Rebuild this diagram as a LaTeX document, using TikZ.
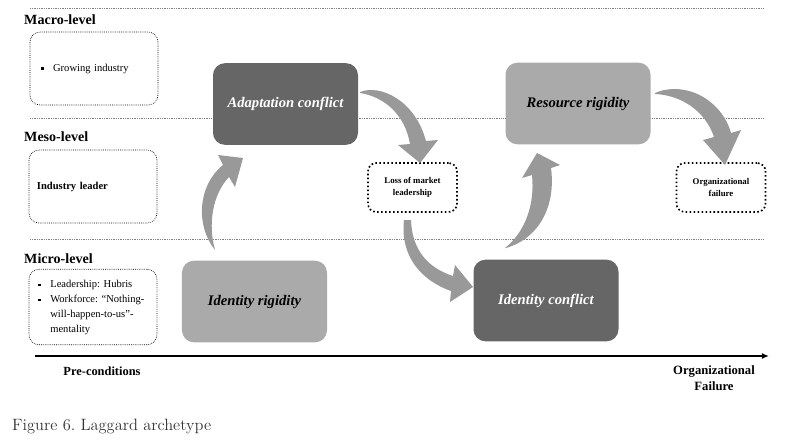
\documentclass[tikz,border=0pt]{standalone}
\usepackage{fontspec}
\setmainfont{Liberation Serif}
\newfontfamily\capfont{Latin Modern Roman}
\usetikzlibrary{arrows.meta}
\frenchspacing

\definecolor{darkbox}{HTML}{666666}
\definecolor{lightbox}{HTML}{AAAAAA}
\definecolor{arrowgray}{HTML}{999999}
\newcommand{\sqbul}{\rule[0.25ex]{2.4pt}{2.4pt}}

\tikzset{
    levelbox/.style={draw, densely dotted, line width=0.6pt, rounded corners=0.3cm, minimum width=3.84cm, minimum height=2.19cm, text width=3.36cm, align=left, inner sep=0.24cm, font=\fontsize{9}{12.7}\selectfont},
    phasebox/.style={rounded corners=0.36cm, minimum width=4.35cm, minimum height=2.45cm, font=\fontsize{12.5}{15}\selectfont\bfseries\itshape},
    outcomebox/.style={draw, dotted, line width=1.4pt, rounded corners=0.25cm, minimum width=2.67cm, minimum height=1.47cm, align=center, font=\fontsize{7.5}{10}\selectfont\bfseries},
    levellabel/.style={anchor=west, inner sep=0pt, font=\fontsize{12}{14}\selectfont\bfseries},
    levelline/.style={gray, densely dotted, line width=0.5pt},
    fatarrow/.style={fill=arrowgray},
}

\begin{document}
\begin{tikzpicture}[x=0.03cm, y=-0.03cm]
        \useasboundingbox (0,0) rectangle (791,444);
        % level separators
        \draw[levelline] (30,8) -- (763,8);
        \draw[levelline] (30,118) -- (763,118);
        \draw[levelline] (30,239) -- (763,239);

        % levels
        \node[levellabel] (macrolbl) at (24,20) {Macro-level};
        \node[levellabel] (mesolbl) at (24,137) {Meso-level};
        \node[levellabel] (microlbl) at (24,259) {Micro-level};

        \node[levelbox] (macro) at (94,68.5) {\hspace*{2.5pt}\sqbul\hspace{8pt}Growing industry};
        \node[levelbox, font=\fontsize{9}{12.7}\selectfont\bfseries] (meso) at (93,186.5) {Industry leader};
        \node[levelbox, minimum height=2.19cm] (micro) at (93,307) {\begin{tabular}{@{\hspace{1pt}}l@{\hspace{8pt}}l@{}}
            \sqbul & Leadership: Hubris\\
            \sqbul & Workforce: ``Nothing-\\
                   & will-happen-to-us''-\\
                   & mentality
        \end{tabular}};

        % phases
        \node[phasebox, fill=darkbox, text=white] (adapt) at (285.5,104) {Adaptation conflict};
        \node[phasebox, fill=lightbox] (identrig) at (254.5,301.5) {Identity rigidity};
        \node[phasebox, fill=lightbox] (resrig) at (578,103.5) {Resource rigidity};
        \node[phasebox, fill=darkbox, text=white] (identcon) at (546,300.5) {Identity conflict};

        \node[outcomebox] (loss) at (412.5,187.5) {Loss of market\\leadership};
        \node[outcomebox] (orgfail) at (721,187.5) {Organizational\\failure};

        % fat arrows
        \fill[fatarrow] (215,250) .. controls (195,225) and (198,185) .. (223,165) -- (218,155) -- (243,158) -- (235,187) -- (229,177) .. controls (212,195) and (208,225) .. (215,250) -- cycle;
        \fill[fatarrow] (360,92) .. controls (380,84) and (415,100) .. (426,141) -- (438,140) -- (420,163) -- (398,145) -- (410,144) .. controls (405,115) and (385,97) .. (360,93) -- cycle;
        \fill[fatarrow] (404,220) .. controls (400,255) and (420,280) .. (451,291) -- (450,302) -- (473,287) -- (455,265) -- (453,276) .. controls (428,268) and (412,250) .. (411,220) -- cycle;
        \fill[fatarrow] (505,248) .. controls (525,232) and (535,205) .. (532,175) -- (522,178) -- (537,153) -- (560,165) -- (551,168) .. controls (556,205) and (540,238) .. (506,248) -- cycle;
        \fill[fatarrow] (655,93) .. controls (685,80) and (722,100) .. (731,133) -- (741,130) -- (725,165) -- (703,140) -- (714,137) .. controls (705,110) and (680,95) .. (655,94) -- cycle;

        % time axis
        \coordinate (axstart) at (35,356);
        \coordinate (axend) at (769,356);
        \draw[line width=1.6pt, -{Latex[length=6pt,width=5pt]}] (axstart) -- (axend);
        \node[font=\fontsize{10.6}{13}\selectfont\bfseries] (pre) at (102,371) {Pre-conditions};
        \node[align=center, font=\fontsize{10.8}{13.3}\selectfont\bfseries] (post) at (714,378) {Organizational\\Failure};

        \node[anchor=west, text=black!80, font=\capfont\fontsize{14}{16}\selectfont] (caption) at (8,426) {Figure 6. Laggard archetype};
    \end{tikzpicture}
\end{document}
